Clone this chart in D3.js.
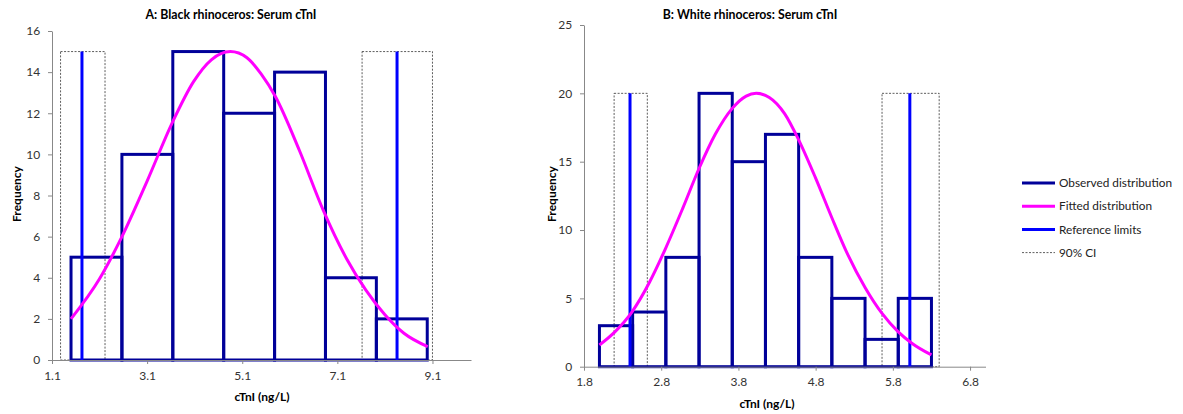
<!DOCTYPE html>
<html>
<head>
<meta charset="utf-8">
<script src="https://cdn.jsdelivr.net/npm/d3@7"></script>
<style>
  body { margin: 0; background: #fff; }
  text { font-family: Lato, "Open Sans", sans-serif; }
  .axis path, .axis line { stroke: #888; }
  .axis text { fill: #333; font-size: 12px; }
</style>
</head>
<body>
<div id="chart"></div>
<script>
var width = 1183, height = 414;

// A: black rhinoceros
const edgesA = [1.5, 2.57, 3.64, 4.71, 5.78, 6.85, 7.92, 8.99];
const countsA = [5, 10, 15, 12, 14, 4, 2];
const refA = [1.73, 8.355];
const ciA = [[1.28, 2.215], [7.62, 9.1]];
const fitXA = [1.5, 2.1, 2.55, 3.1, 3.62, 4.08, 4.45, 4.85, 5.2, 5.5, 5.8, 6.3, 6.8, 7.3, 7.7, 8.1, 8.5, 9.0];
const fitYA = [2.0, 3.95, 5.9, 8.7, 11.5, 13.55, 14.6, 15.0, 14.7, 13.9, 12.8, 10.2, 7.3, 4.9, 3.4, 2.2, 1.3, 0.65];
const xTicksA = [1.1, 3.1, 5.1, 7.1, 9.1];
const yTicksA = [0, 2, 4, 6, 8, 10, 12, 14, 16];

// B: white rhinoceros
const edgesB = [2.0, 2.43, 2.86, 3.29, 3.72, 4.15, 4.58, 5.01, 5.44, 5.87, 6.3];
const countsB = [3, 4, 8, 20, 15, 17, 8, 5, 2, 5];
const refB = [2.396, 6.02];
const ciB = [[2.19, 2.62], [5.66, 6.4]];
const fitXB = [2.0, 2.2, 2.42, 2.65, 2.86, 3.08, 3.29, 3.5, 3.72, 3.9, 4.03, 4.2, 4.4, 4.58, 4.8, 5.01, 5.2, 5.44, 5.66, 5.87, 6.05, 6.3];
const fitYB = [1.59, 2.55, 4.0, 6.2, 8.7, 11.6, 14.5, 17.0, 18.9, 19.8, 20.0, 19.7, 18.5, 16.6, 13.8, 10.9, 8.4, 5.8, 3.9, 2.55, 1.7, 0.86];
const xTicksB = [1.8, 2.8, 3.8, 4.8, 5.8, 6.8];
const yTicksB = [0, 5, 10, 15, 20, 25];

const legendLabels = ['Observed distribution', 'Fitted distribution', 'Reference limits', '90% CI'];

const navy = '#000099', magenta = '#ff00ff', blue = '#0000ff';

let svg = d3.select('#chart')
  .append('svg')
  .attr('width', width)
  .attr('height', height);

let drawPanel = (p) => {
  let g = svg.append('g');
  let x = d3.scaleLinear().domain(p.xDomain).range([p.left, p.right]);
  let y = d3.scaleLinear().domain(p.yDomain).range([p.bottom, p.top]);
  let refTop = p.refH;

  // 90% CI boxes
  g.selectAll('rect.ci')
    .data(p.ci)
    .enter()
    .append('rect')
    .attr('class', 'ci')
    .attr('x', d => x(d[0]))
    .attr('y', y(refTop))
    .attr('width', d => x(d[1]) - x(d[0]))
    .attr('height', y(0) - y(refTop))
    .attr('fill', 'none')
    .attr('stroke', '#333')
    .attr('stroke-width', 0.8)
    .attr('stroke-dasharray', '2,1.5');

  // histogram bars
  let bins = p.counts.map((c, i) => ({ x0: p.edges[i], x1: p.edges[i + 1], c: c }));
  g.selectAll('rect.bar')
    .data(bins)
    .enter()
    .append('rect')
    .attr('class', 'bar')
    .attr('x', d => x(d.x0))
    .attr('y', d => y(d.c))
    .attr('width', d => x(d.x1) - x(d.x0))
    .attr('height', d => y(0) - y(d.c))
    .attr('fill', 'none')
    .attr('stroke', navy)
    .attr('stroke-width', 3);

  // reference limits
  g.selectAll('line.ref')
    .data(p.ref)
    .enter()
    .append('line')
    .attr('x1', d => x(d)).attr('x2', d => x(d))
    .attr('y1', y(0)).attr('y2', y(refTop))
    .attr('stroke', blue)
    .attr('stroke-width', 3);

  // fitted curve
  let pts = p.fitX.map((v, i) => [v, p.fitY[i]]);
  g.append('path')
    .datum(pts)
    .attr('d', d3.line().x(d => x(d[0])).y(d => y(d[1])).curve(d3.curveMonotoneX))
    .attr('fill', 'none')
    .attr('stroke', magenta)
    .attr('stroke-width', 3);

  // axes
  g.append('g')
    .attr('class', 'axis')
    .attr('transform', `translate(0,${p.bottom})`)
    .call(d3.axisBottom(x).tickValues(p.xTicks).tickFormat(d3.format('.1f')).tickSize(4).tickSizeOuter(0))
    .call(a => a.selectAll('text').attr('dy', '1.05em'));

  g.append('g')
    .attr('class', 'axis')
    .attr('transform', `translate(${p.left},0)`)
    .call(d3.axisLeft(y).tickValues(p.yTicks).tickSize(4).tickSizeOuter(0))
    .call(a => a.selectAll('text').attr('dx', '-0.4em'));

  g.append('text')
    .attr('x', p.titleX).attr('y', 19)
    .attr('text-anchor', 'middle')
    .attr('font-size', 12.3).attr('font-weight', 'bold')
    .text(p.title);

  g.append('text')
    .attr('x', p.xLabelX).attr('y', p.bottom + 41)
    .attr('text-anchor', 'middle')
    .attr('font-size', 12).attr('font-weight', 'bold')
    .text('cTnI  (ng/L)');

  g.append('text')
    .attr('transform', `translate(${p.yLabelX},194) rotate(-90)`)
    .attr('text-anchor', 'middle')
    .attr('font-size', 12).attr('font-weight', 'bold')
    .text('Frequency');
};

drawPanel({
  left: 52, right: 471, top: 31, bottom: 360,
  xDomain: [1.1, 9.91], yDomain: [0, 16],
  edges: edgesA, counts: countsA, ref: refA, ci: ciA, refH: 15,
  fitX: fitXA, fitY: fitYA, xTicks: xTicksA, yTicks: yTicksA,
  title: 'A: Black  rhinoceros: Serum cTnI', titleX: 231, xLabelX: 262, yLabelX: 21
});

drawPanel({
  left: 584, right: 985.5, top: 25, bottom: 366.7,
  xDomain: [1.8, 7.0], yDomain: [0, 25],
  edges: edgesB, counts: countsB, ref: refB, ci: ciB, refH: 20,
  fitX: fitXB, fitY: fitYB, xTicks: xTicksB, yTicks: yTicksB,
  title: 'B: White rhinoceros: Serum cTnI', titleX: 750, xLabelX: 767, yLabelX: 556
});

// legend
let legend = svg.append('g').attr('transform', 'translate(1022,183)');
let styles = [
  { c: navy, w: 3, dash: null },
  { c: magenta, w: 3, dash: null },
  { c: blue, w: 3, dash: null },
  { c: '#333', w: 0.8, dash: '2,1.5' }
];
let rows = legend.selectAll('g')
  .data(legendLabels)
  .enter()
  .append('g')
  .attr('transform', (d, i) => `translate(0,${i * 23.2})`);
rows.append('line')
  .attr('x1', 0).attr('x2', 33)
  .attr('stroke', (d, i) => styles[i].c)
  .attr('stroke-width', (d, i) => styles[i].w)
  .attr('stroke-dasharray', (d, i) => styles[i].dash);
rows.append('text')
  .attr('x', 37).attr('dy', '0.35em')
  .attr('font-size', 11.8)
  .attr('fill', '#222')
  .text(d => d);
</script>
</body>
</html>
